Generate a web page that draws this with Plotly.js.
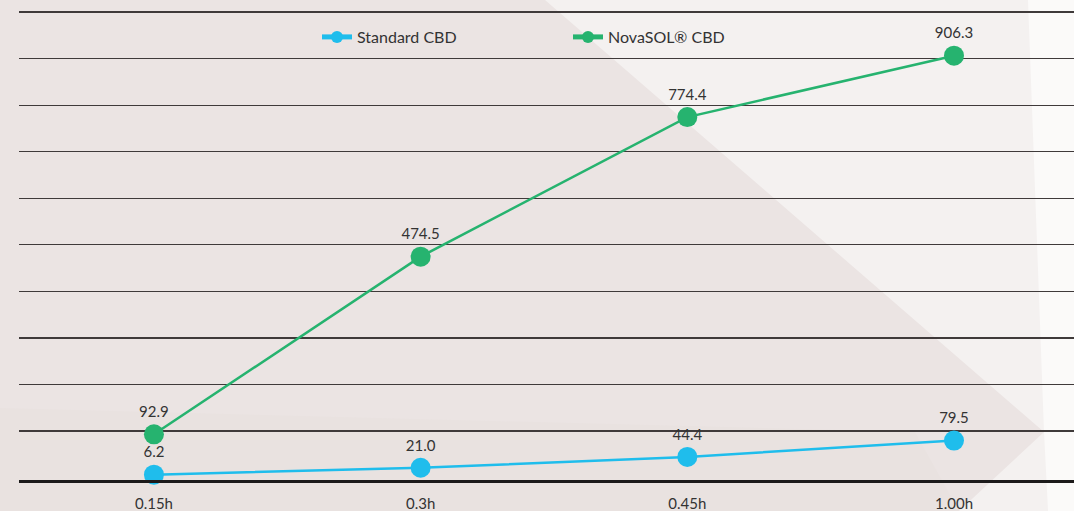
<!DOCTYPE html>
<html>
<head>
<meta charset="utf-8">
<script src="https://cdn.plot.ly/plotly-3.0.1.min.js"></script>
<style>
  html, body { margin: 0; padding: 0; background: #ebe4e3; }
  #chart { width: 1074px; height: 511px; }
</style>
</head>
<body>
<div id="chart"></div>
<script>
// ---- data ----
const categories = ['0.15h', '0.3h', '0.45h', '1.00h'];
const standardCBD = [6.2, 21.0, 44.4, 79.5];
const novasolCBD = [92.9, 474.5, 774.4, 906.3];
const seriesNames = ['Standard CBD', 'NovaSOL® CBD'];
const gridVals = [100, 200, 300, 400, 500, 600, 700, 800, 900, 1000];

// ---- layout geometry (pixels) ----
const W = 1074, H = 511;
const M = { l: 19, r: 0, t: 10, b: 31 };
const plotW = W - M.l - M.r, plotH = H - M.t - M.b;
const px = x => (x - M.l) / plotW;          // pixel -> paper x
const py = y => (H - M.b - y) / plotH;      // pixel -> paper y
const poly = pts => 'M' + pts.map(p => px(p[0]).toFixed(4) + ',' + py(p[1]).toFixed(4)).join(' L') + ' Z';

const FONT = 'Lato, "Open Sans", Roboto, sans-serif';
const BLUE = '#1fbdec';
const GREEN = '#26b36f';

const traces = [
  {
    x: categories, y: standardCBD, name: seriesNames[0],
    type: 'scatter', mode: 'lines+markers+text',
    line: { color: BLUE, width: 2.5 },
    marker: { color: BLUE, size: 20 },
    text: standardCBD.map(v => v.toFixed(1)),
    textposition: 'top center',
    textfont: { family: FONT, size: 15, color: '#333333' },
    cliponaxis: false
  },
  {
    x: categories, y: novasolCBD, name: seriesNames[1],
    type: 'scatter', mode: 'lines+markers+text',
    line: { color: GREEN, width: 2.5 },
    marker: { color: GREEN, size: 20 },
    text: novasolCBD.map(v => v.toFixed(1)),
    textposition: 'top center',
    textfont: { family: FONT, size: 15, color: '#333333' },
    cliponaxis: false
  }
];

const layout = {
  width: W, height: H,
  margin: M,
  paper_bgcolor: '#ebe4e3',
  plot_bgcolor: 'rgba(0,0,0,0)',
  font: { family: FONT, size: 14, color: '#333333' },
  showlegend: true,
  legend: {
    orientation: 'h',
    x: px(317), xanchor: 'left',
    y: py(37), yanchor: 'middle',
    entrywidth: 206, entrywidthmode: 'pixels',
    itemsizing: 'constant',
    bgcolor: 'rgba(0,0,0,0)',
    font: { family: FONT, size: 16, color: '#333333' }
  },
  xaxis: {
    type: 'category',
    range: [-0.506, 3.45],
    showgrid: false, zeroline: false,
    showline: true, linecolor: '#1c1a1a', linewidth: 3,
    ticks: '', ticklen: 0, ticklabelstandoff: 8,
    tickfont: { family: FONT, size: 15, color: '#333333' },
    fixedrange: true
  },
  yaxis: {
    range: [-5.2, 1004.4],
    tickmode: 'array', tickvals: gridVals,
    showticklabels: false,
    showgrid: true, gridcolor: '#3f3a3a', gridwidth: 1.3,
    zeroline: false, showline: false,
    fixedrange: true
  },
  shapes: [
    // subtle darker band lower-left
    { type: 'path', xref: 'paper', yref: 'paper', layer: 'below',
      path: poly([[0, 408], [915, 432], [959, 511], [0, 511]]),
      fillcolor: '#e9e2e0', line: { width: 0 } },
    // light triangle region
    { type: 'path', xref: 'paper', yref: 'paper', layer: 'below',
      path: poly([[545, 0], [1044, 432], [959, 511], [1074, 511], [1074, 0]]),
      fillcolor: '#f4f1f0', line: { width: 0 } },
    // near-white strip on far right
    { type: 'path', xref: 'paper', yref: 'paper', layer: 'below',
      path: poly([[1028, 0], [1074, 0], [1074, 511], [1048, 511], [1044, 432]]),
      fillcolor: '#fbfaf9', line: { width: 0 } }
  ]
};

Plotly.newPlot('chart', traces, layout, { displayModeBar: false, staticPlot: true });
</script>
</body>
</html>
